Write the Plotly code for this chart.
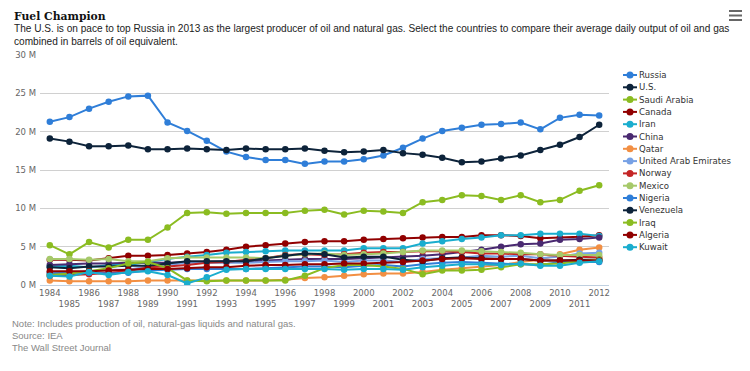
import plotly.graph_objects as go

years = list(range(1984, 2013))

countries = ["Russia", "U.S.", "Saudi Arabia", "Canada", "Iran", "China", "Qatar",
             "United Arab Emirates", "Norway", "Mexico", "Nigeria", "Venezuela",
             "Iraq", "Algeria", "Kuwait"]

colors = ["#2f7ed8", "#0d233a", "#8bbc21", "#910000", "#1aadce", "#492970", "#f28f43",
          "#77a1e5", "#c42525", "#a6c96a", "#2f7ed8", "#0d233a", "#8bbc21", "#910000", "#1aadce"]

russia = [21.3, 21.9, 23.0, 23.9, 24.6, 24.7, 21.2, 20.1, 18.8, 17.4, 16.7, 16.3, 16.3, 15.8, 16.1,
          16.1, 16.4, 16.9, 17.9, 19.1, 20.1, 20.5, 20.9, 21.0, 21.2, 20.3, 21.8, 22.2, 22.1]
us = [19.1, 18.7, 18.1, 18.1, 18.2, 17.7, 17.7, 17.8, 17.7, 17.6, 17.8, 17.7, 17.7, 17.8, 17.5,
      17.3, 17.4, 17.6, 17.2, 17.0, 16.6, 16.0, 16.1, 16.5, 16.9, 17.6, 18.3, 19.3, 20.9]
saudi = [5.2, 4.0, 5.6, 4.9, 5.9, 5.9, 7.5, 9.4, 9.5, 9.3, 9.4, 9.4, 9.4, 9.7, 9.8,
         9.2, 9.7, 9.6, 9.4, 10.8, 11.1, 11.7, 11.6, 11.1, 11.7, 10.8, 11.1, 12.3, 13.0]
canada = [3.3, 3.3, 3.2, 3.5, 3.8, 3.8, 3.9, 4.1, 4.3, 4.6, 5.0, 5.2, 5.4, 5.6, 5.7,
          5.7, 5.9, 6.0, 6.1, 6.2, 6.25, 6.25, 6.5, 6.5, 6.4, 6.1, 6.2, 6.3, 6.5]
iran = [2.4, 2.5, 2.3, 2.6, 2.6, 3.0, 3.4, 3.7, 3.9, 4.2, 4.3, 4.4, 4.5, 4.5, 4.5,
        4.5, 4.8, 4.8, 4.8, 5.4, 5.7, 6.0, 6.2, 6.5, 6.5, 6.7, 6.7, 6.7, 6.4]
china = [2.6, 2.7, 2.8, 2.8, 2.9, 2.9, 2.9, 3.0, 3.0, 3.1, 3.1, 3.2, 3.3, 3.4, 3.4,
         3.4, 3.5, 3.6, 3.7, 3.8, 4.0, 4.3, 4.6, 5.0, 5.3, 5.4, 5.9, 6.0, 6.2]
qatar = [0.6, 0.5, 0.5, 0.5, 0.5, 0.6, 0.6, 0.6, 0.6, 0.6, 0.6, 0.6, 0.7, 0.9, 1.0,
         1.2, 1.4, 1.5, 1.5, 1.7, 2.0, 2.2, 2.4, 2.6, 3.0, 3.3, 4.0, 4.6, 4.9]
uae = [1.6, 1.6, 1.8, 2.0, 2.0, 2.4, 2.6, 2.9, 2.9, 2.9, 2.9, 3.0, 3.1, 3.1, 3.2,
       3.0, 3.2, 3.2, 3.0, 3.4, 3.5, 3.6, 3.8, 3.7, 3.8, 3.5, 3.7, 4.1, 4.2]
norway = [1.2, 1.3, 1.4, 1.6, 1.8, 2.3, 2.4, 2.6, 2.9, 3.0, 3.3, 3.5, 3.9, 4.0, 3.9,
          4.0, 4.2, 4.3, 4.3, 4.4, 4.4, 4.3, 4.1, 4.1, 4.0, 4.0, 3.8, 3.7, 3.6]
mexico = [3.4, 3.4, 3.3, 3.4, 3.1, 3.1, 3.5, 3.6, 3.6, 3.6, 3.6, 3.5, 3.8, 4.0, 4.1,
          3.9, 4.0, 4.1, 4.3, 4.5, 4.5, 4.5, 4.4, 4.3, 4.2, 4.0, 3.9, 3.9, 3.9]
nigeria = [1.5, 1.6, 1.6, 1.5, 1.6, 1.9, 2.0, 2.1, 2.1, 2.1, 2.1, 2.2, 2.3, 2.4, 2.4,
           2.3, 2.5, 2.6, 2.4, 2.7, 2.9, 3.0, 2.9, 2.8, 2.7, 2.6, 3.0, 3.0, 3.0]
venezuela = [2.3, 2.2, 2.4, 2.4, 2.5, 2.5, 2.8, 3.1, 3.1, 3.1, 3.1, 3.5, 3.8, 4.1, 4.0,
             3.6, 3.7, 3.7, 3.3, 3.1, 3.5, 3.6, 3.5, 3.4, 3.4, 3.2, 3.2, 3.3, 3.3]
iraq = [1.3, 1.5, 1.8, 2.2, 2.8, 3.0, 2.2, 0.6, 0.5, 0.6, 0.6, 0.6, 0.6, 1.2, 2.2,
        2.6, 2.6, 2.4, 2.1, 1.4, 1.9, 1.9, 2.0, 2.3, 2.7, 2.7, 2.8, 3.1, 3.3]
algeria = [1.8, 1.8, 1.8, 1.9, 2.0, 2.1, 2.1, 2.2, 2.3, 2.3, 2.5, 2.6, 2.6, 2.7, 2.7,
           2.8, 2.8, 2.9, 3.0, 3.2, 3.4, 3.5, 3.4, 3.4, 3.4, 3.2, 3.2, 3.2, 3.2]
kuwait = [1.2, 1.1, 1.7, 1.3, 1.7, 1.8, 1.3, 0.2, 1.0, 2.0, 2.1, 2.1, 2.1, 2.1, 2.1,
          2.0, 2.1, 2.1, 2.0, 2.3, 2.5, 2.7, 2.7, 2.6, 2.8, 2.5, 2.5, 2.9, 3.1]

series = [russia, us, saudi, canada, iran, china, qatar, uae, norway, mexico,
          nigeria, venezuela, iraq, algeria, kuwait]

y_ticks = [0, 5, 10, 15, 20, 25, 30]
y_tick_labels = ["0 M", "5 M", "10 M", "15 M", "20 M", "25 M", "30 M"]
x_tick_labels = [str(y) if (y - 1984) % 2 == 0 else "<br>" + str(y) for y in years]

title = "Fuel Champion"
subtitle = ["The U.S. is on pace to top Russia in 2013 as the largest producer of oil and natural gas. Select the countries to compare their average daily output of oil and gas",
            "combined in barrels of oil equivalent."]
notes = ["Note: Includes production of oil, natural-gas liquids and natural gas.",
         "Source: IEA", "The Wall Street Journal"]

W, H = 750, 371
PLOT_L, PLOT_R, PLOT_T, PLOT_B = 40, 609, 55, 285
L, T, R, B = PLOT_L, PLOT_T, W - PLOT_R, H - PLOT_B
PW, PH = PLOT_R - PLOT_L, PLOT_B - PLOT_T

def px(x):
    return (x - PLOT_L) / PW

def py(y):
    return (PLOT_B - y) / PH

fig = go.Figure()
for name, vals, col in zip(countries, series, colors):
    fig.add_trace(go.Scatter(x=years, y=vals, name=name, mode="lines+markers",
                             line=dict(color=col, width=2),
                             marker=dict(color=col, size=6.5), showlegend=False))

annotations = []
shapes = []
# custom legend
for i, (name, col) in enumerate(zip(countries, colors)):
    yc = 75 + i * 12.3
    shapes.append(dict(type="line", xref="paper", yref="paper", x0=px(623), x1=px(637),
                       y0=py(yc), y1=py(yc), line=dict(color=col, width=2)))
    shapes.append(dict(type="circle", xref="paper", yref="paper", x0=px(626.5), x1=px(633.5),
                       y0=py(yc + 3.5), y1=py(yc - 3.5), fillcolor=col, line=dict(width=0)))
    annotations.append(dict(text=name, xref="paper", yref="paper", x=px(637), y=py(yc),
                            xanchor="left", yanchor="middle", showarrow=False,
                            font=dict(family="DejaVu Sans", size=8.6, color="#333")))

annotations.append(dict(text="<b>" + title + "</b>", xref="paper", yref="paper", x=px(12), y=py(16),
                        xanchor="left", yanchor="middle", showarrow=False,
                        font=dict(family="DejaVu Serif", size=10.8, color="#111")))
for i, s in enumerate(subtitle):
    annotations.append(dict(text=s, xref="paper", yref="paper", x=px(12), y=py(28 + i * 13.5),
                            xanchor="left", yanchor="middle", showarrow=False,
                            font=dict(family="Liberation Sans", size=10.1, color="#222")))
for i, s in enumerate(notes):
    annotations.append(dict(text=s, xref="paper", yref="paper", x=px(10), y=py(323 + i * 12.3),
                            xanchor="left", yanchor="middle", showarrow=False,
                            font=dict(family="Liberation Sans", size=9.5, color="#888")))

# menu icon
for k in range(3):
    yb = 11 + k * 4.5
    shapes.append(dict(type="line", xref="paper", yref="paper", x0=px(729), x1=px(742),
                       y0=py(yb), y1=py(yb), line=dict(color="#666", width=2)))

fig.update_layout(
    width=W, height=H,
    margin=dict(l=L, r=R, t=T, b=B),
    paper_bgcolor="white", plot_bgcolor="white",
    annotations=annotations, shapes=shapes,
    xaxis=dict(range=[1983.5, 2012.5], tickvals=years, ticktext=x_tick_labels,
               tickangle=0, showgrid=False, zeroline=False, showline=True,
               linecolor="#C0D0E0", linewidth=1, ticks="",
               tickfont=dict(family="DejaVu Sans", size=8.5, color="#666"),
               fixedrange=True),
    yaxis=dict(range=[0, 30], tickvals=y_ticks, ticktext=y_tick_labels,
               showgrid=True, gridcolor="#D0D0D0", gridwidth=1, zeroline=False,
               showline=False, ticks="", ticklabelstandoff=3,
               tickfont=dict(family="DejaVu Sans", size=8.5, color="#666"),
               fixedrange=True),
    hovermode="closest",
)

fig.write_html("out.html", config={"displayModeBar": False},
               post_script="document.body.style.margin='0';document.body.style.overflow='hidden';")
